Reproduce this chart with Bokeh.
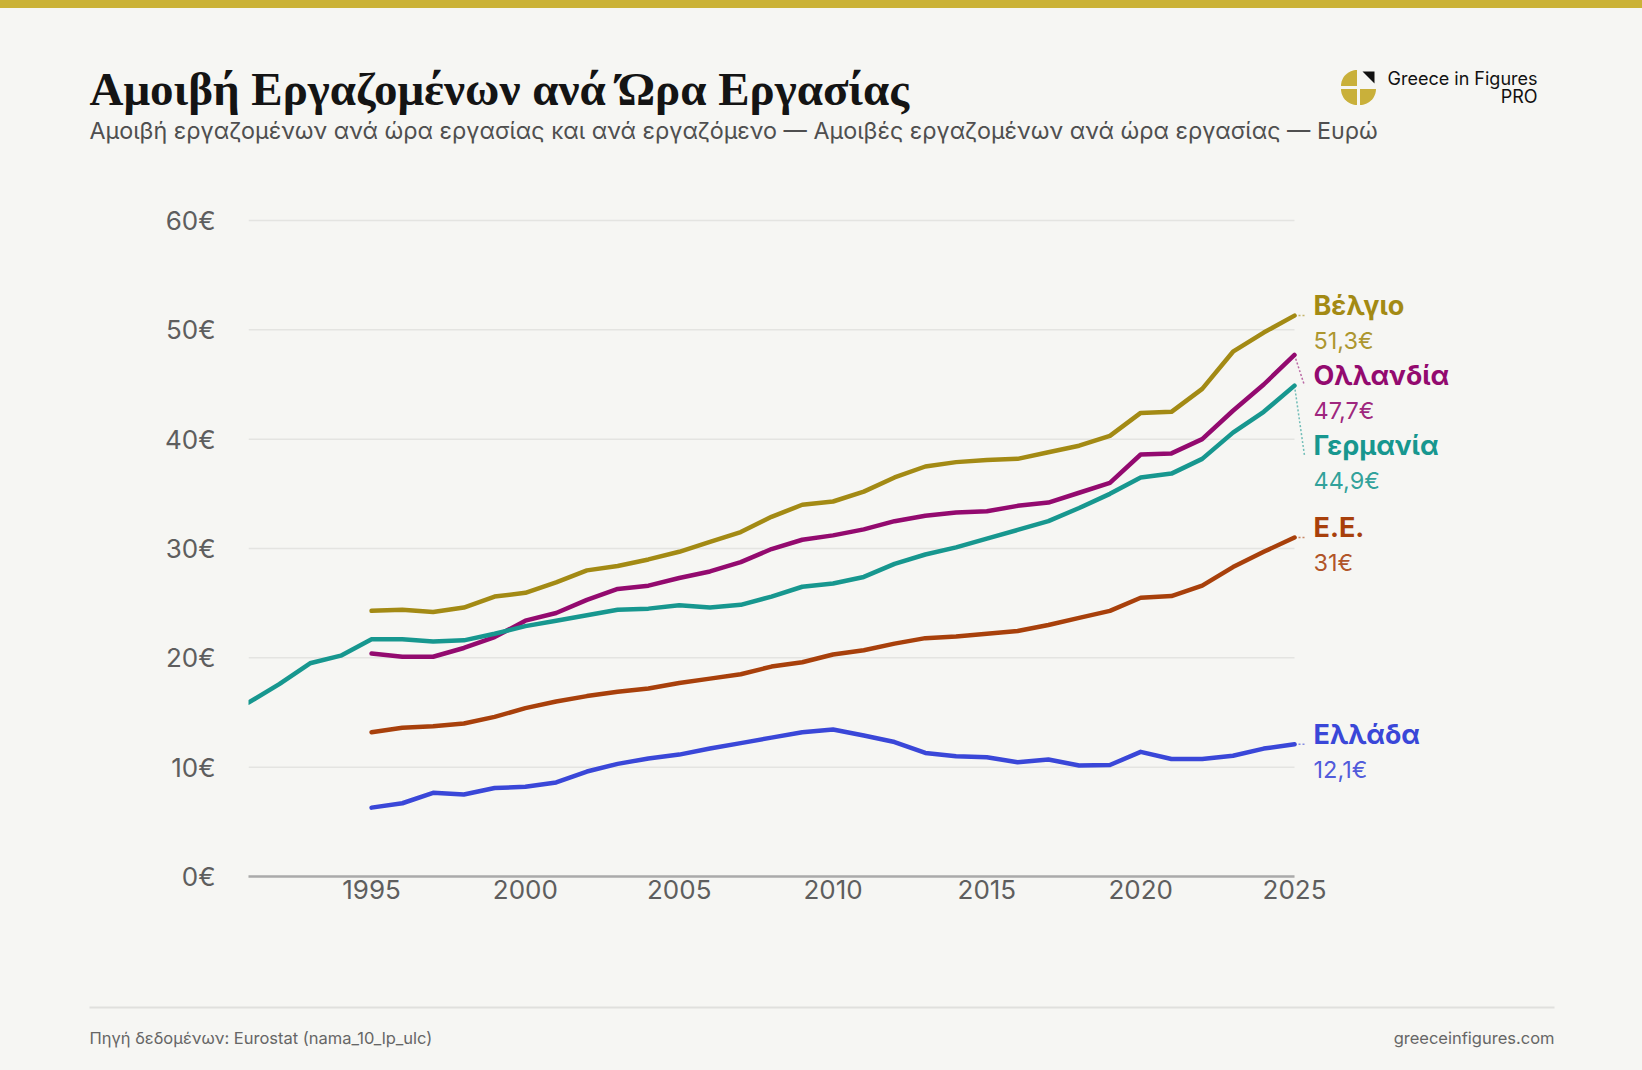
from bokeh.plotting import figure
from bokeh.models import FixedTicker, Range1d
from bokeh.layouts import column
from bokeh.core.properties import value
from bokeh.embed import file_html
from bokeh.resources import INLINE
import math

# ---------------- data ----------------
years_de = list(range(1991, 2026))
years = list(range(1995, 2026))

germany = [15.9, 17.6, 19.5, 20.2, 21.7, 21.7, 21.5, 21.6, 22.2, 22.9, 23.4, 23.9, 24.4, 24.5, 24.8,
           24.6, 24.85, 25.6, 26.5, 26.8, 27.4, 28.6, 29.45, 30.1, 30.9, 31.7, 32.5, 33.7, 35.0,
           36.5, 36.85, 38.2, 40.6, 42.5, 44.9]
belgium = [24.3, 24.4, 24.2, 24.6, 25.6, 25.95, 26.9, 28.0, 28.4, 29.0, 29.7,
           30.6, 31.5, 32.9, 34.0, 34.3, 35.2, 36.5, 37.5, 37.9, 38.1, 38.2, 38.8, 39.4, 40.3,
           42.4, 42.5, 44.6, 48.0, 49.75, 51.3]
netherlands = [20.4, 20.1, 20.1, 20.9, 21.9, 23.4, 24.1, 25.3, 26.3, 26.6, 27.3,
               27.9, 28.75, 29.95, 30.8, 31.2, 31.75, 32.5, 33.0, 33.3, 33.4, 33.9, 34.2, 35.1, 36.0,
               38.6, 38.7, 40.0, 42.6, 45.0, 47.7]
eu = [13.2, 13.6, 13.75, 14.0, 14.6, 15.4, 16.0, 16.5, 16.9, 17.2, 17.7,
      18.1, 18.5, 19.2, 19.6, 20.3, 20.7, 21.3, 21.8, 21.95, 22.2, 22.45, 23.0, 23.65, 24.3,
      25.5, 25.65, 26.6, 28.3, 29.7, 31.0]
greece = [6.3, 6.7, 7.65, 7.5, 8.1, 8.2, 8.6, 9.6, 10.3, 10.8, 11.15,
          11.7, 12.2, 12.7, 13.2, 13.45, 12.9, 12.3, 11.3, 11.0, 10.9, 10.45, 10.7, 10.15, 10.2,
          11.4, 10.75, 10.75, 11.05, 11.7, 12.1]

names = ["Βέλγιο", "Ολλανδία", "Γερμανία", "Ε.Ε.", "Ελλάδα"]
colors = ["#a38a14", "#930a6f", "#17978f", "#a8400b", "#3a47d8"]
xs_list = [years, years, years_de, years, years]
ys_list = [belgium, netherlands, germany, eu, greece]

y_ticks = [0, 10, 20, 30, 40, 50, 60]
x_ticks = [1995, 2000, 2005, 2010, 2015, 2020, 2025]

title = "Αμοιβή Εργαζομένων ανά Ώρα Εργασίας"
subtitle = ("Αμοιβή εργαζομένων ανά ώρα εργασίας και ανά εργαζόμενο — "
            "Αμοιβές εργαζομένων ανά ώρα εργασίας — Ευρώ")
brand = ["Greece in Figures", "PRO"]
source = "Πηγή δεδομένων: Eurostat (nama_10_lp_ulc)"
site = "greeceinfigures.com"

# ---------------- layout constants ----------------
BG = "#f6f6f3"
W = 1642
X0, X1 = 1991, 2025
FRAME_L, FRAME_R_2025 = 248, 1294          # page x of 1991 and 2025
Y_ZERO, Y_SIXTY = 876, 220                 # page y of 0 and 60
px_per_year = (FRAME_R_2025 - FRAME_L) / (X1 - X0)
px_per_unit = (Y_ZERO - Y_SIXTY) / 60

HEAD_TOP, HEAD_H = 8, 172
MAIN_TOP, MAIN_H = HEAD_TOP + HEAD_H, 750
FOOT_TOP, FOOT_H = MAIN_TOP + MAIN_H, 132
MAIN_FRAME_TOP = 200


def canvas(top, height):
    f = figure(width=W, height=height, output_backend="svg", toolbar_location=None,
               x_range=Range1d(0, W), y_range=Range1d(top + height, top),
               x_axis_type=None, y_axis_type=None, min_border=0, frame_align=False,
               background_fill_color=BG, border_fill_color=BG, outline_line_color=None)
    f.grid.visible = False
    return f


# ---------------- header ----------------
head = canvas(HEAD_TOP, HEAD_H)
head.text(x=[89], y=[88], text=[title], text_font=value("Liberation Serif"),
          text_font_style="bold", text_font_size="47px", text_color="#141414",
          text_baseline="alphabetic", text_align="left")
head.text(x=[89], y=[130], text=[subtitle], text_font=value("Inter"),
          text_font_size="23.3px", text_color="#4f4f4f",
          text_baseline="alphabetic", text_align="left")
head.text(x=[1537, 1537], y=[77.5, 95.5], text=brand, text_font=value("Inter"),
          text_font_size="18px", text_color="#111111",
          text_baseline="alphabetic", text_align="right")

cx, cy, r, g = 1358, 87, 16, 1.5
leaf_xs, leaf_ys = [], []
for a0, a1, ox, oy in [(90, 180, -g, -g), (180, 270, -g, g), (270, 360, g, g)]:
    lx, ly = [cx + ox], [cy + oy]
    for k in range(17):
        a = math.radians(a0 + (a1 - a0) * k / 16)
        lx.append(cx + ox + r * math.cos(a))
        ly.append(cy + oy - r * math.sin(a))
    leaf_xs.append(lx)
    leaf_ys.append(ly)
head.patches(leaf_xs, leaf_ys, fill_color="#c9b03a", line_color=None)
head.patches([[cx + 4, cx + r, cx + r]], [[cy - r, cy - r, cy - 4]],
             fill_color="#111111", line_color=None)

# ---------------- main chart ----------------
x_end = X0 + (W - FRAME_L) / px_per_year
y_end = (Y_ZERO - MAIN_FRAME_TOP) / px_per_unit
main = figure(width=W, height=MAIN_H, output_backend="svg", toolbar_location=None,
              x_range=Range1d(X0, x_end), y_range=Range1d(0, y_end),
              min_border_left=FRAME_L, min_border_right=0,
              min_border_top=MAIN_FRAME_TOP - MAIN_TOP,
              min_border_bottom=MAIN_TOP + MAIN_H - Y_ZERO, frame_align=False,
              background_fill_color=BG, border_fill_color=BG, outline_line_color=None)
main.grid.visible = False

main.xaxis.ticker = FixedTicker(ticks=x_ticks)
main.yaxis.ticker = FixedTicker(ticks=y_ticks)
main.yaxis.major_label_overrides = {t: f"{t}€" for t in y_ticks}
for ax in (main.xaxis, main.yaxis):
    ax.major_tick_line_color = None
    ax.minor_tick_line_color = None
    ax.major_tick_out = 0
    ax.major_tick_in = 0
    ax.major_label_text_font = "Inter"
    ax.major_label_text_font_size = "26px"
    ax.major_label_text_color = "#5e5e5e"
main.yaxis.axis_line_color = None
main.yaxis.major_label_standoff = 33
main.xaxis.bounds = (X0, X1)
main.xaxis.axis_line_color = "#aaaaaa"
main.xaxis.axis_line_width = 2.5
main.xaxis.major_label_standoff = 3

# horizontal grid lines limited to the data span
n = len(y_ticks)
main.segment(x0=[X0] * n, y0=y_ticks, x1=[X1] * n, y1=y_ticks,
             line_color="#e4e4e1", line_width=1.5)

for xs, ys, c in zip(xs_list, ys_list, colors):
    main.line(xs, ys, line_width=4.5, line_color=c, line_join="round", line_cap="round")

# end labels with simple collision avoidance
ends = [ys[-1] for ys in ys_list]
order = sorted(range(len(ends)), key=lambda i: -ends[i])
GAP = 6.4
anchors = [0.0] * len(ends)
prev = None
for i in order:
    a = ends[i] if prev is None else min(ends[i], prev - GAP)
    anchors[i] = a
    prev = a


def fmt(v):
    s = f"{v:.1f}".rstrip("0").rstrip(".")
    return s.replace(".", ",") + "€"


k = len(names)
dx = 10 / px_per_year
main.segment(x0=[X1] * k, y0=ends, x1=[X1 + dx] * k, y1=anchors,
             line_color=colors, line_width=1.5, line_dash="2 2", line_alpha=0.6)
main.text(x=[X1] * k, y=anchors, text=names, x_offset=19, y_offset=-10,
          text_font=value("Inter"), text_font_style="bold", text_font_size="27px",
          text_color=colors, text_baseline="middle", text_align="left")
main.text(x=[X1] * k, y=anchors, text=[fmt(v) for v in ends], x_offset=19, y_offset=25,
          text_font=value("Inter"), text_font_size="23.5px", text_alpha=0.9,
          text_color=colors, text_baseline="middle", text_align="left")

# ---------------- footer ----------------
foot = canvas(FOOT_TOP, FOOT_H)
foot.segment(x0=[89], y0=[1007], x1=[1554], y1=[1007], line_color="#e0e0dd", line_width=2)
foot.text(x=[89], y=[1037], text=[source], text_font=value("Inter"), text_font_size="16.5px",
          text_color="#666666", text_baseline="middle", text_align="left")
foot.text(x=[1554], y=[1037], text=[site], text_font=value("Inter"), text_font_size="16.5px",
          text_color="#666666", text_baseline="middle", text_align="right")

layout = column(head, main, foot, spacing=0)
try:
    from bokeh.models import GlobalInlineStyleSheet
    layout.stylesheets = [GlobalInlineStyleSheet(
        css="html{border-top:8px solid #cbb236;background:%s;} body{margin-top:0;background:%s;}" % (BG, BG))]
except Exception:
    pass

open("out.html", "w").write(file_html(layout, INLINE))
